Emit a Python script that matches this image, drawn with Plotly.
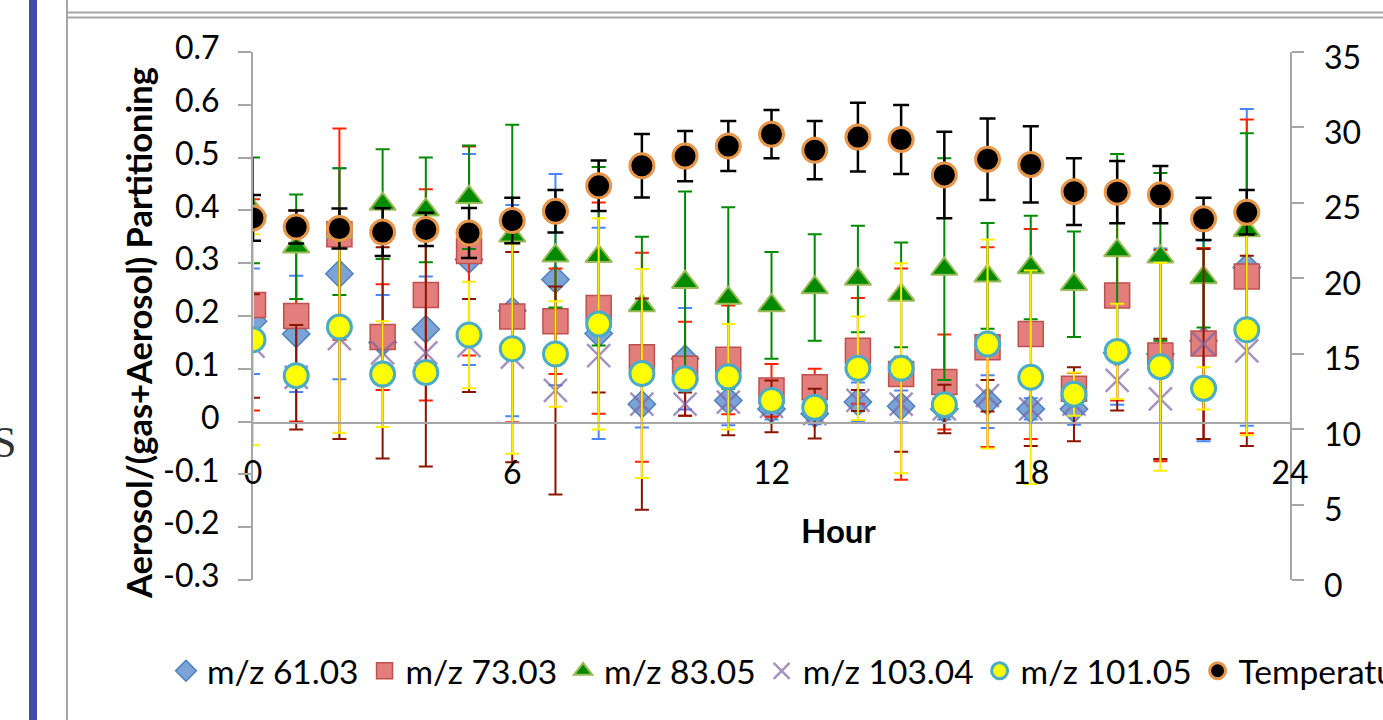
import plotly.graph_objects as go

# ---------------- data ----------------
hours = list(range(24))

mz61 = [0.19, 0.166, 0.28, 0.15, 0.175, 0.307, 0.21, 0.269, 0.167, 0.033, 0.119, 0.04,
        0.024, 0.015, 0.037, 0.029, 0.024, 0.038, 0.024, 0.024, 0.13, 0.128, 0.153, 0.292]
mz61_err = [0.10, 0.11, 0.20, 0.09, 0.10, 0.20, 0.20, 0.20, 0.20, 0.044, 0.096, 0.047,
            0.02, 0.02, 0.037, 0.03, 0.02, 0.05, 0.02, 0.03, 0.098, 0.20, 0.19, 0.30]

mz73 = [0.221, 0.20, 0.355, 0.16, 0.24, 0.323, 0.199, 0.19, 0.215, 0.122, 0.10, 0.117,
        0.059, 0.065, 0.134, 0.09, 0.075, 0.141, 0.166, 0.062, 0.239, 0.125, 0.148, 0.275]
mz73_err = [0.20, 0.20, 0.20, 0.10, 0.20, 0.198, 0.20, 0.10, 0.20, 0.198, 0.089, 0.103,
            0.05, 0.035, 0.10, 0.20, 0.09, 0.189, 0.199, 0.03, 0.199, 0.20, 0.181, 0.297]

mz83 = [0.40, 0.331, 0.36, 0.412, 0.401, 0.425, 0.352, 0.314, 0.313, 0.22, 0.264, 0.234,
        0.22, 0.254, 0.27, 0.24, 0.289, 0.276, 0.292, 0.26, 0.324, 0.312, 0.273, 0.362]
mz83_err = [0.10, 0.099, 0.12, 0.104, 0.099, 0.098, 0.21, 0.098, 0.169, 0.13, 0.172, 0.172,
            0.101, 0.101, 0.101, 0.099, 0.21, 0.10, 0.098, 0.10, 0.183, 0.159, 0.095, 0.184]

mz103 = [0.143, 0.084, 0.157, 0.13, 0.13, 0.144, 0.122, 0.059, 0.125, 0.033, 0.033, 0.037,
         0.029, 0.015, 0.04, 0.033, 0.024, 0.049, 0.024, 0.033, 0.078, 0.043, 0.147, 0.134]
mz103_err = [0.098, 0.099, 0.19, 0.20, 0.215, 0.088, 0.199, 0.197, 0.07, 0.20, 0.022, 0.063,
             0.049, 0.047, 0.02, 0.09, 0.046, 0.03, 0.07, 0.07, 0.057, 0.114, 0.18, 0.18]

mz101 = [0.155, 0.087, 0.179, 0.09, 0.093, 0.164, 0.138, 0.128, 0.185, 0.091, 0.081, 0.085,
         0.04, 0.027, 0.101, 0.101, 0.032, 0.147, 0.084, 0.052, 0.133, 0.104, 0.063, 0.174]
mz101_err = [0.20, 0.01, 0.20, 0.10, 0.015, 0.101, 0.199, 0.10, 0.20, 0.198, 0.015, 0.10,
             0.015, 0.015, 0.098, 0.199, 0.015, 0.198, 0.202, 0.041, 0.09, 0.197, 0.04, 0.20]

temperature = [24.0, 23.4, 23.3, 23.06, 23.24, 23.0, 23.83, 24.44, 26.13, 27.46, 28.1, 28.77,
               29.55, 28.49, 29.36, 29.2, 26.85, 27.89, 27.55, 25.74, 25.71, 25.54, 23.94, 24.38]
temperature_err = [1.52, 1.1, 1.33, 1.58, 1.1, 1.66, 1.51, 1.41, 1.67, 2.1, 1.66, 1.66,
                   1.6, 1.93, 2.28, 2.29, 2.87, 2.7, 2.53, 2.21, 2.07, 1.9, 1.4, 1.47]

x_ticks = [0, 6, 12, 18, 24]
y_ticks = [-0.3, -0.2, -0.1, 0, 0.1, 0.2, 0.3, 0.4, 0.5, 0.6, 0.7]
y_ticktext = ["-0.3", "-0.2", "-0.1", "0", "0.1", "0.2", "0.3", "0.4", "0.5", "0.6", "0.7"]
y2_ticks = [0, 5, 10, 15, 20, 25, 30, 35]

# ---------------- geometry helpers (pixel -> paper) ----------------
W, H = 1383, 720
L, R, T, B = 253, 1290, 52, 580


def pxx(x):
    return (x - L) / (R - L)


def pxy(y):
    return (B - y) / (B - T)


FONT = "Lato, 'Open Sans', sans-serif"
GRAY = "#A6A6A6"

fig = go.Figure()


def add(y, err, name, symbol, size, color, lcolor, lwidth, ecolor, ewidth=7, ethick=2, yaxis="y"):
    fig.add_trace(go.Scatter(
        x=hours, y=y, name=name, mode="markers", yaxis=yaxis,
        marker=dict(symbol=symbol, size=size, color=color,
                    line=dict(color=lcolor, width=lwidth)),
        error_y=dict(type="data", array=err, visible=True, color=ecolor,
                     thickness=ethick, width=ewidth),
    ))


add(mz61, mz61_err, "m/z 61.03", "diamond", 21, "#7BA3D8", "#4F81BD", 1.5, "#4A86FF")
add(mz73, mz73_err, "m/z 73.03", "square", 25, "#E27E7C", "#C0504D", 1.5, "#FF2400")
add(mz83, mz83_err, "m/z 83.05", "triangle-up", 23, "#008A00", "#9BBB59", 2, "#008A00")
add(mz103, mz103_err, "m/z 103.04", "x-thin", 23, "rgba(128,100,162,0.7)",
    "rgba(128,100,162,0.7)", 2.5, "#8B1500")
add(mz101, mz101_err, "m/z 101.05", "circle", 24, "#FFFF00", "#4BACC6", 3, "#FFEE00")
add(temperature, temperature_err, "Temperature", "circle", 24, "#000000", "#E8964A", 3,
    "#000000", ewidth=8, ethick=2.5, yaxis="y2")

shapes = [
    # blue bar on far left
    dict(type="rect", xref="paper", yref="paper", x0=pxx(29), x1=pxx(37), y0=pxy(725), y1=pxy(-5),
         fillcolor="#4149AA", line=dict(width=0), layer="above"),
    # chart frame lines
    dict(type="line", xref="paper", yref="paper", x0=pxx(67), x1=pxx(67), y0=pxy(725), y1=pxy(-5),
         line=dict(color=GRAY, width=2)),
    dict(type="line", xref="paper", yref="paper", x0=pxx(67), x1=pxx(1390), y0=pxy(12.5), y1=pxy(12.5),
         line=dict(color=GRAY, width=2)),
    dict(type="line", xref="paper", yref="paper", x0=pxx(67), x1=pxx(1390), y0=pxy(17.5), y1=pxy(17.5),
         line=dict(color=GRAY, width=2)),
]

annotations = [
    dict(text="<b>Aerosol/(gas+Aerosol) Partitioning</b>", textangle=-90, xref="paper", yref="paper",
         x=pxx(138), y=pxy(333), xanchor="center", yanchor="middle", showarrow=False,
         font=dict(family=FONT, size=34.5, color="#000000")),
    dict(text="<b>Hour</b>", xref="paper", yref="paper", x=pxx(838), y=pxy(530),
         xanchor="center", yanchor="middle", showarrow=False,
         font=dict(family=FONT, size=33, color="#000000")),
    dict(text="S", xref="paper", yref="paper", x=pxx(18), y=pxy(442), xanchor="right", yanchor="middle",
         showarrow=False, font=dict(family="Liberation Serif", size=44, color="#333333")),
]

# secondary-axis tick labels, placed like the original (left edge ~24 px beyond the tick marks)
for v in y2_ticks:
    annotations.append(dict(text=str(v), xref="paper", yref="y2", x=pxx(1322), y=v,
                            xanchor="left", yanchor="middle", yshift=-4, showarrow=False,
                            font=dict(family=FONT, size=32, color="#000000")))

fig.update_layout(
    width=W, height=H,
    margin=dict(l=L, r=W - R, t=T, b=H - B, autoexpand=False),
    paper_bgcolor="white", plot_bgcolor="white",
    font=dict(family=FONT, size=32, color="#000000"),
    showlegend=True,
    legend=dict(orientation="h", x=pxx(165), y=pxy(671), xanchor="left", yanchor="middle",
                font=dict(family=FONT, size=33.5, color="#000000"), bgcolor="rgba(0,0,0,0)",
                itemclick=False, itemwidth=32),
    xaxis=dict(range=[0, 24], tickvals=x_ticks, ticktext=[str(v) for v in x_ticks],
               anchor="free", position=pxy(422.7), showline=True, linecolor=GRAY, linewidth=2,
               ticks="", showgrid=False, zeroline=False, ticklabelstandoff=22,
               tickfont=dict(family=FONT, size=32)),
    yaxis=dict(range=[-0.3, 0.7], tickvals=y_ticks, ticktext=y_ticktext, showline=True,
               linecolor=GRAY, linewidth=2, ticks="outside", ticklen=13, tickwidth=2, tickcolor=GRAY,
               showgrid=False, zeroline=False, ticklabelstandoff=12, ticklabelshift=-4,
               tickfont=dict(family=FONT, size=32)),
    yaxis2=dict(range=[0, 35], tickvals=y2_ticks, overlaying="y", side="right", showline=True,
                linecolor=GRAY, linewidth=2, ticks="outside", ticklen=12, tickwidth=2,
                tickcolor=GRAY, showticklabels=False, showgrid=False, zeroline=False),
    shapes=shapes, annotations=annotations,
)

fig.write_html("out.html")
